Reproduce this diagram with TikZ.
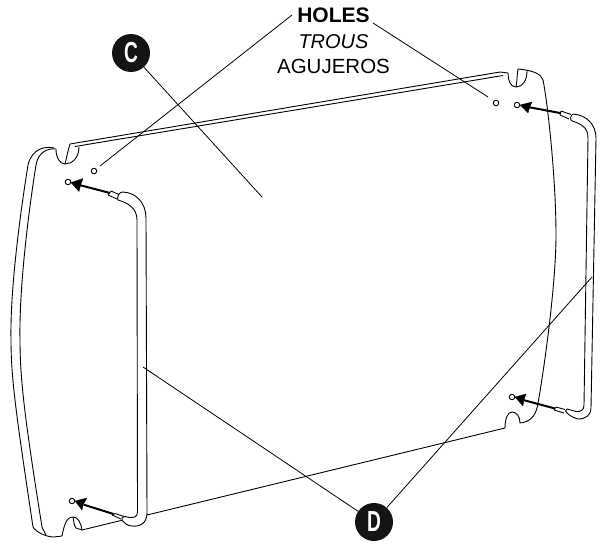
\documentclass[tikz,border=0pt]{standalone}
\usepackage{fontspec}
\setmainfont{Liberation Sans}
\tikzset{
  edgeline/.style={line width=0.9pt,line join=round,black},
  leader/.style={line width=0.8pt,black},
  pinshaft/.style={line width=2pt,shorten >=9pt},
  pinhead/.style={fill=black,draw=black,line width=0.3pt,line join=miter},
  hole/.style={circle,draw,line width=0.9pt,minimum width=4.5pt,minimum height=5.5pt,inner sep=0pt,fill=white},
  tag/.style={circle,fill=black!92,minimum size=38pt,inner sep=0pt,text=white,font=\bfseries\fontsize{29}{29}\selectfont},
  lbl/.style={anchor=base,font=\fontsize{20.5}{20.5}\selectfont,inner sep=0pt}
}
\begin{document}
\begin{tikzpicture}[x=1pt,y=-1pt]
\useasboundingbox (0,0) rectangle (602,546);
% panel outline
\draw[edgeline] (54,148) .. controls (46,146) and (32,148) .. (28,165) .. controls (20,215) and (10,290) .. (11,340) .. controls (11,380) and (17,420) .. (33,527) .. controls (36,532) and (46,537) .. (54,537) -- (62,536) .. controls (64,526) and (66,517) .. (73,517) .. controls (78,517) and (81,523) .. (82,530) -- (123,520);
\draw[edgeline] (56,149) .. controls (48,148) and (38,152) .. (36,165) .. controls (28,215) and (19,290) .. (20,340) .. controls (20,380) and (25,420) .. (42,527) -- (46,535);
\draw[edgeline] (73,517) .. controls (74,522) and (74,526) .. (76,528) -- (82,530);
\draw[edgeline] (147,515) -- (505,428) .. controls (505,418) and (508,412) .. (512,412) .. controls (517,412) and (520,417) .. (520,423) .. controls (530,422) and (535,416) .. (537,408) .. controls (541,390) and (556,290) .. (556,235) .. controls (556,180) and (548,105) .. (543,80) .. controls (541,75) and (537,71) .. (518,69);
% left notch + top edge
\draw[edgeline] (56,149) .. controls (56,158) and (60,164) .. (65,164) .. controls (72,164) and (79,158) .. (79,147);
\draw[edgeline] (70,144) .. controls (68,150) and (67,156) .. (65,164);
\draw[edgeline] (70,144) -- (500,72) -- (508,73);
\draw[edgeline] (75,146.5) -- (503,75.5);
% right notch
\draw[edgeline] (508,73) .. controls (508,80) and (510,87) .. (516,87) .. controls (523,87) and (527,80) .. (527,71);
\draw[edgeline] (518,69) .. controls (517,75) and (517,82) .. (516,87);
% holes
\node[hole] (hA) at (94,171) {};
\node[hole] (hB) at (68,182) {};
\node[hole] (hC) at (72,501) {};
\node[hole] (hD) at (496,103) {};
\node[hole] (hE) at (517,105) {};
\node[hole] (hF) at (512,397) {};
% left rod
\draw[edgeline] (122,192) .. controls (136,192) and (146,203) .. (146,218) -- (147,513) .. controls (147,523) and (140,527) .. (132,526) .. controls (128,526) and (124,523) .. (122,520);
\draw[edgeline] (118,200) .. controls (128,203) and (137,208) .. (137,220) -- (137.500,512) .. controls (137.500,517) and (134,519) .. (125,516.500);
\draw[edgeline] (122,192) .. controls (118,193) and (117,198) .. (118,200);
\draw[edgeline] (111,191) -- (119,194.500) (108,195) -- (117,199) (111,191) -- (108,195);
\draw[edgeline] (125,516.500) .. controls (122,517) and (121,519) .. (122,520);
\draw[edgeline] (115,513.500) -- (124,516.500) (112,515) -- (121,519) (115,513.500) -- (112,515);
% right rod
\draw[edgeline] (573,114) .. controls (587,115) and (596,125) .. (596,138) -- (591,408) .. controls (591,415) and (586,419) .. (578,419) .. controls (574,418) and (570,416) .. (567,413);
\draw[edgeline] (572,121) .. controls (582,124) and (588,128) .. (588,138) -- (584,405) .. controls (584,410) and (581,412) .. (576,411.500) -- (567,409);
\draw[edgeline] (573,114) .. controls (570,116) and (570,120) .. (572,121);
\draw[edgeline] (561,111) -- (571,114.500) (560,115) -- (569,119) (561,111) -- (560,115);
\draw[edgeline] (567,409) .. controls (565,410) and (565,412) .. (567,413);
\draw[edgeline] (556,407) -- (565,409.500) (554,410) -- (564,413) (556,407) -- (554,410);
% pins
\coordinate (aS) at (110,193);
\coordinate (bS) at (113.500,514);
\coordinate (cS) at (560,113);
\coordinate (dS) at (555,408.500);
\draw[pinshaft] (aS) -- (hB);
\draw[pinshaft] (bS) -- (hC);
\draw[pinshaft] (cS) -- (hE);
\draw[pinshaft] (dS) -- (hF);
\draw[pinhead] (71,182.500) -- (83,178.500) -- (80.500,185.500) -- (79,191.500) -- cycle;
\draw[pinhead] (75,501) -- (87,498) -- (83,505) -- (82,510) -- cycle;
\draw[pinhead] (520,105) -- (532,102) -- (529.500,107.500) -- (528,113) -- cycle;
\draw[pinhead] (515,397) -- (526,394) -- (524,399.500) -- (523,406) -- cycle;
% labels
\node[lbl,font=\bfseries\fontsize{21}{21}\selectfont] (holes) at (333.500,22) {HOLES};
\node[lbl,font=\itshape\fontsize{20}{20}\selectfont] (trous) at (333.500,48) {TROUS};
\node[lbl] (aguj) at (333.500,73.500) {AGUJEROS};
\node[tag] (C) at (131,53) {\scalebox{0.66}[1]{C}};
\node[tag] (D) at (374,522) {\scalebox{0.66}[1]{D}};
% leaders
\coordinate (lHa) at (292,15);
\coordinate (lHb) at (373,23);
\coordinate (hAe) at (100,166);
\coordinate (hDe) at (488,97);
\coordinate (cE) at (262,197);
\coordinate (rodL) at (143,367);
\coordinate (rodR) at (592,277);
\draw[leader] (lHa) -- (hAe);
\draw[leader] (lHb) -- (hDe);
\draw[leader] (C) -- (cE);
\draw[leader] (D) -- (rodL);
\draw[leader] (D) -- (rodR);
\end{tikzpicture}
\end{document}
